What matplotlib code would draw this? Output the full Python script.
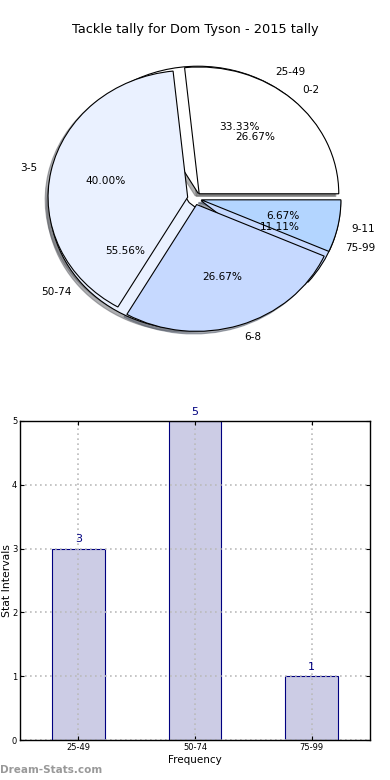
import matplotlib
matplotlib.use("Agg")
import matplotlib.pyplot as plt
import numpy as np

title = "Tackle tally for Dom Tyson - 2015 tally"
pie1_labels = ["0-2", "3-5", "6-8", "9-11"]
pie1_values = [4, 6, 4, 1]
pie2_labels = ["25-49", "50-74", "75-99"]
pie2_values = [3, 5, 1]
bar_labels = ["25-49", "50-74", "75-99"]
bar_values = [3, 5, 1]

pie_colors = ["#ffffff", "#eaf1ff", "#c6d9ff", "#b3d5ff"]

fig = plt.figure(figsize=(3.9, 7.8), dpi=100)

# Pie axes
ax1 = fig.add_axes([20/390, 1 - 357/780, 349/390, 317/780])
for vals, labs in [(pie2_values, pie2_labels), (pie1_values, pie1_labels)]:
    ax1.pie(vals, labels=labs, colors=pie_colors[:len(vals)], explode=[0.05]*len(vals),
            autopct="%1.2f%%", startangle=0, labeldistance=1.1, pctdistance=0.6,
            shadow={"ox": -0.015, "oy": -0.015, "shade": 0.6},
            wedgeprops=dict(edgecolor="black", linewidth=0.8),
            textprops=dict(fontsize=7.6))
ax1.set_aspect("auto")
ax1.set_xlim(-1.25, 1.25)
ax1.set_ylim(-1.25, 1.25)
fig.text(0.5, 1 - 30/780, title, ha="center", va="center", fontsize=9.3)

# Bar axes
ax2 = fig.add_axes([20/390, 1 - 740/780, 350/390, 319/780])
x = np.arange(len(bar_values))
ax2.bar(x, bar_values, width=0.45, color="#cccce5",
        edgecolor="navy", linewidth=0.8, zorder=1)
for xi, v in zip(x, bar_values):
    ax2.text(xi, v + 0.07, str(v), ha="center", va="bottom", color="navy", fontsize=8)
ax2.set_xlim(-0.5, 2.5)
ax2.set_ylim(0, 5)
ax2.set_xticks(x)
ax2.set_xticklabels(bar_labels, fontsize=6)
ax2.set_yticks(range(6))
ax2.set_yticklabels([str(i) for i in range(6)], fontsize=6)
ax2.tick_params(direction="in", top=True, right=True, length=3, pad=2)
ax2.grid(True, linestyle=(0, (1, 2)), color="#bbbbbb", linewidth=1.2)
for gl in ax2.get_xgridlines() + ax2.get_ygridlines():
    gl.set_zorder(2)
ax2.set_xlabel("Frequency", fontsize=7.5, labelpad=2)
ax2.set_ylabel("Stat Intervals", fontsize=7.8, labelpad=0)
for s in ax2.spines.values():
    s.set_linewidth(1.0)
    s.set_zorder(3)

fig.text(0.0, 1 - 770/780, "Dream-Stats.com", ha="left", va="center", fontsize=7.5,
         color="#999999", fontweight="bold")

fig.savefig("out.png", dpi=100)
